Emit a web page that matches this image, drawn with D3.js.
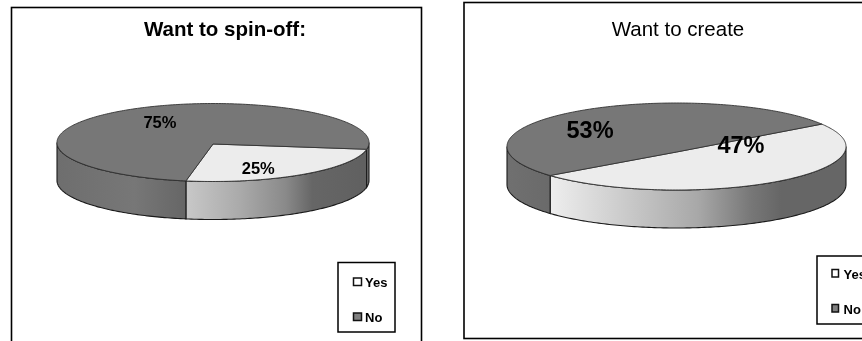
<!DOCTYPE html>
<html><head><meta charset="utf-8">
<style>html,body{margin:0;padding:0;background:#fff}svg{display:block;filter:blur(0.35px)}text{font-family:"Liberation Sans",Arial,sans-serif;fill:#000}</style>
<script src="https://cdn.jsdelivr.net/npm/d3@7/dist/d3.min.js"></script>
</head><body><svg id="c" width="862" height="341"></svg>
<script>
const categories = ["Yes","No"];
const spinOffValues = [25,75];
const createValues = [47,53];
const spinOffTitle = "Want to spin-off:";
const createTitle = "Want to create";

const deg = Math.PI/180;
const svg = d3.select("#c");
const defs = svg.append("defs");
const topColor = {Yes:"#ececec",No:"#777777"};
const swatch = {Yes:"#ffffff",No:"#808080"};

function chart(o){
  const g = svg.append("g");
  g.append("rect").attr("x",o.frame[0]).attr("y",o.frame[1]).attr("width",o.frame[2]).attr("height",o.frame[3])
    .attr("fill","#fff").attr("stroke","#000").attr("stroke-width",1.6);
  g.append("text").attr("x",o.titleX).attr("y",o.titleY).attr("text-anchor","middle")
    .attr("font-size",o.titleSize).attr("font-weight",o.titleBold?"bold":"normal").text(o.title);

  const pie = d3.pie().sort(null).value(d=>d.v).startAngle(o.start*deg).endAngle((o.start+360)*deg);
  const arcs = pie(categories.map((c,i)=>({c,v:o.values[i]})));
  const sx = d3.scaleLinear().domain([-1,1]).range([o.cx-o.rx,o.cx+o.rx]);
  const sy = d3.scaleLinear().domain([-1,1]).range([o.cy-o.ry,o.cy+o.ry]);
  const P = a=>[sx(Math.sin(a)),sy(-Math.cos(a))];
  const curve = (a0,a1,dy=0)=>{
    const n=Math.max(2,Math.ceil(Math.abs(a1-a0)/deg)),pts=[];
    for(let i=0;i<=n;i++){const p=P(a0+(a1-a0)*i/n);pts.push([p[0],p[1]+dy]);}
    return pts;
  };
  const line = d3.line();
  arcs.forEach((a,i)=>{
    const segs=[];
    for(let k=-1;k<=1;k++){
      const lo=Math.max(a.startAngle,(90+360*k)*deg), hi=Math.min(a.endAngle,(270+360*k)*deg);
      if(hi>lo) segs.push([lo,hi]);
    }
    segs.forEach((s,j)=>{
      const id=`w${o.id}${i}${j}`;
      const xa=P(s[0])[0], xb=P(s[1])[0];
      const grad=defs.append("linearGradient").attr("id",id).attr("gradientUnits","userSpaceOnUse")
        .attr("x1",Math.min(xa,xb)).attr("x2",Math.max(xa,xb)).attr("y1",0).attr("y2",0);
      o.wall[a.data.c].forEach(c=>grad.append("stop").attr("offset",c[0]).attr("stop-color",c[1]));
      const top=curve(s[0],s[1]), bot=curve(s[1],s[0],o.depth);
      g.append("path").attr("d",line(top.concat(bot))+"Z").attr("fill",`url(#${id})`)
        .attr("stroke","#1a1a1a").attr("stroke-width",1.1);
    });
  });
  arcs.forEach(a=>{
    const pts=[[o.cx,o.cy+o.pivotDy]].concat(curve(a.startAngle,a.endAngle));
    g.append("path").attr("d",line(pts)+"Z").attr("fill",topColor[a.data.c])
      .attr("stroke","#333").attr("stroke-width",0.9);
  });
  arcs.forEach((a,i)=>{
    g.append("text").attr("x",sx(o.label[i][0])).attr("y",sy(o.label[i][1])).attr("text-anchor","middle")
      .attr("dominant-baseline","central").attr("font-size",o.labelSize).attr("font-weight","bold")
      .text(d3.format(".0f")(a.data.v)+"%");
  });
  const L=o.legend;
  g.append("rect").attr("x",L[0]).attr("y",L[1]).attr("width",L[2]).attr("height",L[3])
    .attr("fill","#fff").attr("stroke","#000").attr("stroke-width",1.5);
  categories.forEach((c,i)=>{
    const y=L[1]+L[4]+i*L[5];
    g.append("rect").attr("x",L[0]+L[6]).attr("y",y-4).attr("width",o.swW).attr("height",7.5)
      .attr("fill",swatch[c]).attr("stroke","#111").attr("stroke-width",1.5);
    g.append("text").attr("x",L[0]+L[6]+o.swW+o.swGap).attr("y",y+0.5).attr("dominant-baseline","central")
      .attr("font-size",13).attr("font-weight","bold").text(c);
  });
}

chart({id:"a",values:spinOffValues,title:spinOffTitle,titleBold:true,titleSize:20.5,titleX:225,titleY:36,
  frame:[11.5,7.5,410,345],cx:213,cy:142.5,rx:156,ry:39,depth:38,start:100,pivotDy:1.5,
  wall:{Yes:[[0,"#c8c8c8"],[0.3,"#aaaaaa"],[0.55,"#8a8a8a"],[0.7,"#666"],[1,"#606060"]],No:[[0,"#6e6e6e"],[0.6,"#777"],[1,"#666"]]},
  label:[[0.29,0.65],[-0.34,-0.525]],labelSize:16.5,
  legend:[338,262.5,57,69.5,19.5,35,15.5],swW:8,swGap:3.5});
chart({id:"b",values:createValues,title:createTitle,titleBold:false,titleSize:20.5,titleX:678,titleY:36,
  frame:[464,2.5,420,336],cx:676.5,cy:146.5,rx:169.5,ry:43.5,depth:38,start:59,pivotDy:5.5,
  wall:{Yes:[[0,"#eeeeee"],[0.5,"#a8a8a8"],[0.68,"#777"],[0.78,"#666"],[1,"#666"]],No:[[0,"#707070"],[1,"#6a6a6a"]]},
  label:[[0.38,-0.03],[-0.51,-0.38]],labelSize:23.5,
  legend:[817,256,60,68,17.5,35,15],swW:6.5,swGap:5});
</script></body></html>
